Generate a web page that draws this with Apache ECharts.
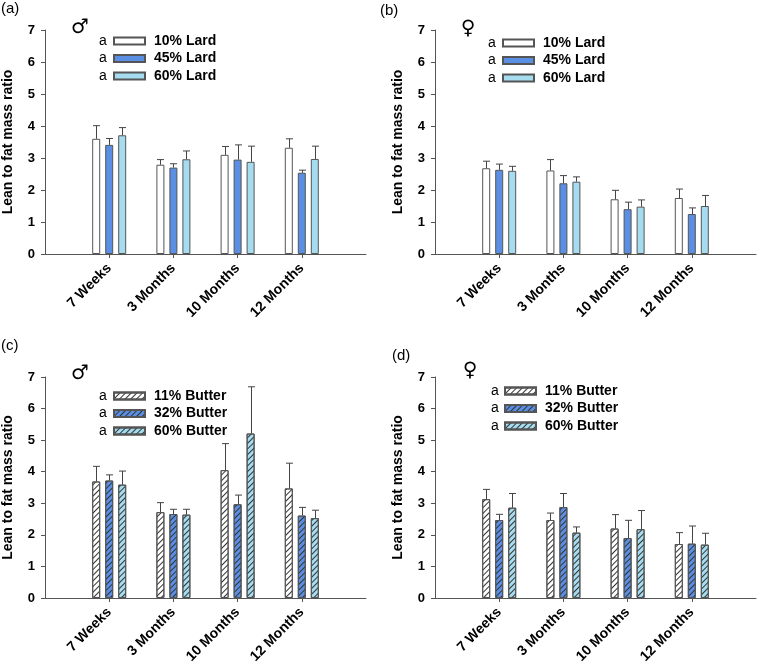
<!DOCTYPE html>
<html>
<head>
<meta charset="utf-8">
<script src="https://cdn.jsdelivr.net/npm/echarts@6/dist/echarts.min.js"></script>
<style>
  html, body { margin: 0; padding: 0; background: #fff; }
  #main { width: 759px; height: 666px; }
</style>
</head>
<body>
<div id="main"></div>
<script>
// categories and legend names
const categories = ['7 Weeks', '3 Months', '10 Months', '12 Months'];
const lardNames = ['10% Lard', '45% Lard', '60% Lard'];
const butterNames = ['11% Butter', '32% Butter', '60% Butter'];

// (a) male, lard diets: means and error
const aLard10 = [3.60, 2.79, 3.10, 3.32];
const aLard10Err = [0.41, 0.16, 0.26, 0.28];
const aLard45 = [3.41, 2.70, 2.95, 2.54];
const aLard45Err = [0.20, 0.12, 0.46, 0.08];
const aLard60 = [3.71, 2.96, 2.88, 2.97];
const aLard60Err = [0.24, 0.26, 0.49, 0.40];

// (b) female, lard diets
const bLard10 = [2.68, 2.61, 1.71, 1.75];
const bLard10Err = [0.22, 0.34, 0.28, 0.28];
const bLard45 = [2.63, 2.21, 1.40, 1.25];
const bLard45Err = [0.18, 0.24, 0.22, 0.19];
const bLard60 = [2.60, 2.26, 1.48, 1.50];
const bLard60Err = [0.14, 0.15, 0.21, 0.33];

// (c) male, butter diets
const cButter11 = [3.69, 2.72, 4.05, 3.47];
const cButter11Err = [0.48, 0.30, 0.84, 0.80];
const cButter32 = [3.72, 2.66, 2.97, 2.61];
const cButter32Err = [0.18, 0.15, 0.29, 0.26];
const cButter60 = [3.59, 2.64, 5.21, 2.53];
const cButter60Err = [0.43, 0.17, 1.48, 0.25];

// (d) female, butter diets
const dButter11 = [3.13, 2.47, 2.20, 1.71];
const dButter11Err = [0.31, 0.22, 0.44, 0.36];
const dButter32 = [2.47, 2.88, 1.90, 1.72];
const dButter32Err = [0.18, 0.43, 0.56, 0.56];
const dButter60 = [2.86, 2.07, 2.18, 1.69];
const dButter60Err = [0.45, 0.18, 0.59, 0.36];

const yMax = 7;
const colors = ['#ffffff', '#5a8fe4', '#a6dcef'];
const edge = '#555';
const font = 'Liberation Sans, Arial, sans-serif';

const hatch = {
  symbol: 'rect',
  dashArrayX: [1, 0],
  dashArrayY: [1, 3],
  rotation: -Math.PI / 4,
  color: '#333'
};

const panels = [
  { grid: { left: 45, top: 30, width: 321, height: 224 }, names: lardNames,
    means: [aLard10, aLard45, aLard60], errs: [aLard10Err, aLard45Err, aLard60Err], hatched: false },
  { grid: { left: 435, top: 30, width: 321, height: 224 }, names: lardNames,
    means: [bLard10, bLard45, bLard60], errs: [bLard10Err, bLard45Err, bLard60Err], hatched: false },
  { grid: { left: 44, top: 377, width: 322, height: 226 }, names: butterNames,
    means: [cButter11, cButter32, cButter60], errs: [cButter11Err, cButter32Err, cButter60Err], hatched: true },
  { grid: { left: 435, top: 377, width: 321, height: 226 }, names: butterNames,
    means: [dButter11, dButter32, dButter60], errs: [dButter11Err, dButter32Err, dButter60Err], hatched: true }
];

// legend placement per panel: [legend left, first row centre y, 'a' left]
const legendPos = [[113, 41, 99], [502, 43, 488], [113, 396, 99], [504, 391, 491]];
const panelLabels = [['(a)', 1, 1], ['(b)', 380, 3], ['(c)', 1, 338], ['(d)', 392, 348]];
const genders = [['\u2642', 80, 28], ['\u2640', 468, 29], ['\u2642', 80, 374], ['\u2640', 470, 371]];

const barWidth = 8;
const step = 13; // centre distance between bars of a group

function errorRender(offset) {
  return function (params, api) {
    const base = api.coord([api.value(0), api.value(1)]);
    const top = api.coord([api.value(0), api.value(2)]);
    const x = Math.round(base[0] + offset) + 0.5;
    const st = { stroke: '#444', lineWidth: 1 };
    return {
      type: 'group',
      children: [
        { type: 'line', shape: { x1: x, y1: base[1], x2: x, y2: top[1] }, style: st },
        { type: 'line', shape: { x1: x - 3.5, y1: top[1], x2: x + 3.5, y2: top[1] }, style: st }
      ]
    };
  };
}

const grid = [], xAxis = [], yAxis = [], series = [], legend = [], graphic = [];

panels.forEach(function (p, k) {
  grid.push(p.grid);
  xAxis.push({
    type: 'category',
    gridIndex: k,
    data: [''].concat(categories, ['']),
    boundaryGap: false,
    axisLine: { lineStyle: { color: edge, width: 1 } },
    axisTick: {
      length: 4,
      interval: function (i) { return i > 0 && i <= categories.length; },
      lineStyle: { color: edge }
    },
    axisLabel: {
      interval: 0, rotate: 45, margin: 12,
      fontFamily: font, fontWeight: 'bold', fontSize: 14, color: '#000'
    },
    splitLine: { show: false }
  });
  yAxis.push({
    type: 'value',
    gridIndex: k,
    min: 0, max: yMax, interval: 1,
    name: 'Lean to fat mass ratio',
    nameLocation: 'middle',
    nameGap: 30,
    nameTextStyle: { fontFamily: font, fontWeight: 'bold', fontSize: 14, color: '#000' },
    axisLine: { show: true, lineStyle: { color: edge, width: 1 } },
    axisTick: { show: true, length: 4, lineStyle: { color: edge } },
    axisLabel: { margin: 10, fontFamily: font, fontWeight: 'bold', fontSize: 13, color: '#000' },
    splitLine: { show: false }
  });

  p.means.forEach(function (m, s) {
    const item = { color: colors[s], borderColor: edge, borderWidth: 1 };
    if (p.hatched) item.decal = hatch;
    series.push({
      type: 'bar',
      name: p.names[s],
      xAxisIndex: k, yAxisIndex: k,
      barWidth: barWidth,
      barGap: ((step - barWidth) / barWidth * 100) + '%',
      itemStyle: item,
      emphasis: { disabled: true },
      data: m.map(function (v, i) { return [i + 1, v]; })
    });
    series.push({
      type: 'custom',
      xAxisIndex: k, yAxisIndex: k,
      z: 3,
      renderItem: errorRender((s - 1) * step),
      data: m.map(function (v, i) { return [i + 1, v, v + p.errs[s][i]]; })
    });
  });

  const lp = legendPos[k];
  legend.push({
    data: p.names,
    orient: 'vertical',
    left: lp[0], top: lp[1] - 8,
    padding: 0,
    icon: 'rect',
    itemWidth: 31, itemHeight: 7, itemGap: 1.5,
    selectedMode: false,
    textStyle: { fontFamily: font, fontWeight: 'bold', fontSize: 14, lineHeight: 16, color: '#000', padding: [0, 0, 0, 4] }
  });
  p.names.forEach(function (n, r) {
    graphic.push({
      type: 'text', left: lp[2], top: lp[1] + r * 17.5 - 7,
      style: { text: 'a', font: '14px ' + font, fill: '#000' }
    });
  });

  const pl = panelLabels[k];
  graphic.push({ type: 'text', left: pl[1], top: pl[2], style: { text: pl[0], font: '15px ' + font, fill: '#000' } });
  const g = genders[k];
  graphic.push({
    type: 'text', x: g[1], y: g[2],
    style: { text: g[0], font: '20px DejaVu Sans', fill: '#000', align: 'center', verticalAlign: 'middle' }
  });
});

const chart = echarts.init(document.getElementById('main'), null, { renderer: 'canvas' });
chart.setOption({
  backgroundColor: '#fff',
  animation: false,
  grid: grid,
  xAxis: xAxis,
  yAxis: yAxis,
  legend: legend,
  graphic: graphic,
  series: series
});
</script>
</body>
</html>
